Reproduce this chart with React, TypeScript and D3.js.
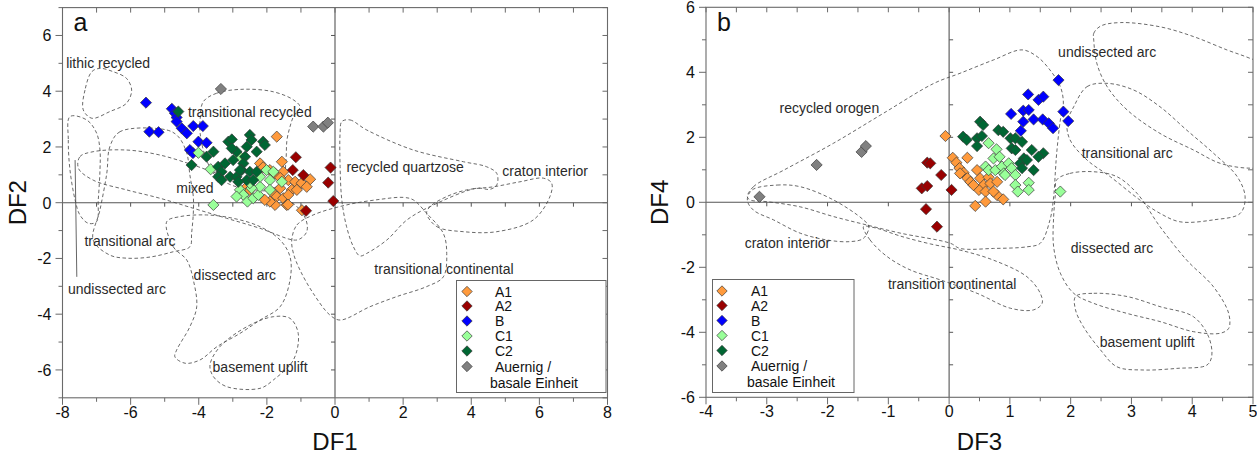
import React from 'react';
import * as d3 from 'd3';

type Pt = [number, number];

// ---------- series meta ----------
const seriesNames = ['A1', 'A2', 'B', 'C1', 'C2', 'Auernig'];
const seriesColors = ['#FF9A3C', '#990000', '#0000FF', '#99FF99', '#006633', '#808080'];
const legendLines: string[][] = [['A1'], ['A2'], ['B'], ['C1'], ['C2'], ['Auernig /', 'basale Einheit']];

// ---------- panel a : DF1 / DF2 ----------
const aA1: Pt[] = [[-1.71,2.37],[-1.56,1.47],[-2.20,1.41],[-2.11,1.27],[-1.91,1.17],[-1.76,1.05],[-1.52,1.11],[-1.37,0.81],[-1.17,0.75],[-0.98,0.70],[-0.73,0.84],[-0.83,0.57],[-1.27,0.46],[-1.61,0.52],[-1.81,0.34],[-1.71,0.22],[-1.52,0.16],[-1.37,0.28],[-1.76,-0.08],[-1.42,-0.08],[-1.91,0.04],[-2.06,0.10],[-2.59,0.57],[-2.50,0.46],[-1.12,0.46],[-1.61,0.89],[-0.97,-0.27],[-1.38,-0.07]];
const aA2: Pt[] = [[-1.15,1.63],[-1.24,1.17],[-0.93,0.99],[-0.85,-0.29],[-0.13,1.26],[-0.20,0.72],[-0.05,0.06]];
const aB: Pt[] = [[-5.55,3.59],[-5.45,2.55],[-5.18,2.53],[-4.79,3.37],[-4.70,3.21],[-4.65,3.06],[-4.65,2.91],[-4.50,2.67],[-4.35,2.49],[-4.16,2.75],[-3.88,2.75],[-4.01,2.19],[-3.77,2.15],[-4.26,1.89],[-4.17,1.78]];
const aC1: Pt[] = [[-4.01,1.79],[-3.65,1.20],[-3.57,-0.08],[-2.79,0.46],[-2.69,0.28],[-2.57,0.04],[-2.40,0.16],[-2.25,0.28],[-2.20,0.57],[-2.01,1.17],[-1.81,1.11],[-1.91,0.81],[-1.56,0.75],[-1.91,0.46],[-2.45,0.52],[-2.50,0.70],[-2.20,0.93],[-2.89,0.22],[-2.79,1.65]];
const aC2: Pt[] = [[-4.60,3.27],[-4.21,1.35],[-3.77,1.65],[-3.57,1.83],[-3.43,1.29],[-3.33,1.11],[-3.43,0.93],[-3.33,0.81],[-3.08,0.93],[-3.13,2.19],[-3.03,2.27],[-2.50,2.43],[-2.45,2.25],[-2.89,1.83],[-2.59,2.01],[-2.64,1.65],[-2.69,1.41],[-2.74,1.17],[-2.50,1.11],[-2.30,1.11],[-2.11,2.19],[-2.06,2.07],[-2.30,1.83],[-2.99,1.53],[-3.23,1.41],[-2.89,0.93],[-2.59,0.81],[-2.40,0.81],[-2.84,0.75],[-3.03,1.95],[-2.79,1.17]];
const aGray: Pt[] = [[-3.35,4.08],[-0.64,2.73],[-0.34,2.73],[-0.21,2.87]];

const aFieldLithicRecycled: Pt[] = [[-7.14,4.70],[-7.34,4.04],[-7.39,3.33],[-7.14,3.03],[-6.61,3.27],[-6.12,3.57],[-5.97,4.04],[-6.12,4.46],[-6.51,4.70],[-6.90,4.82]];
const aFieldUndissectedArc: Pt[] = [[-7.78,3.09],[-7.83,2.25],[-7.78,1.17],[-7.63,0.10],[-7.49,-0.44],[-7.24,-0.74],[-7.00,-0.68],[-6.95,0.10],[-6.90,1.17],[-6.90,1.89],[-7.00,2.50],[-7.29,2.97]];
const aFieldTransitionalArc: Pt[] = [[-4.94,2.61],[-6.31,2.55],[-6.61,2.01],[-6.70,1.05],[-6.90,-0.26],[-7.10,-1.34],[-6.61,-1.88],[-6.12,-1.99],[-5.43,-1.95],[-4.75,-1.76],[-4.26,-1.58],[-4.21,-1.10],[-4.16,-0.38],[-4.16,0.22],[-4.26,0.99],[-4.35,1.77],[-4.60,2.37]];
const aFieldMixed: Pt[] = [[-7.53,1.23],[-7.49,1.65],[-7.10,1.83],[-6.12,1.89],[-5.14,1.71],[-4.16,1.35],[-3.58,1.10],[-2.79,0.78],[-1.91,0.38],[-1.17,-0.08],[-0.85,-0.62],[-0.83,-1.04],[-1.03,-1.30],[-1.22,-1.34],[-2.20,-0.92],[-3.18,-0.56],[-4.16,-0.20],[-5.14,0.16],[-6.12,0.46],[-7.10,0.81]];
const aFieldTransitionalRecycled: Pt[] = [[-3.87,3.62],[-3.47,3.93],[-2.69,4.07],[-1.81,3.98],[-1.22,3.69],[-1.03,3.44],[-1.22,3.09],[-1.32,2.73],[-1.41,2.25],[-1.44,1.53],[-1.53,0.81],[-1.91,0.46],[-2.79,0.53],[-3.52,0.99],[-3.82,1.71],[-3.96,2.50],[-3.96,2.97]];
const aFieldRecycledQuartzose: Pt[] = [[0.20,2.91],[0.44,2.97],[0.93,2.61],[2.30,1.89],[3.77,1.47],[4.45,1.29],[4.75,1.05],[4.75,0.64],[4.55,0.48],[4.16,0.52],[2.79,-0.14],[2.11,-0.62],[1.52,-1.34],[0.93,-1.82],[0.73,-1.91],[0.54,-1.58],[0.34,-0.86],[0.20,0.10],[0.15,1.29],[0.15,2.50]];
const aFieldCratonInterior: Pt[] = [[2.69,-0.38],[2.99,-0.86],[3.77,-1.04],[4.75,-1.04],[5.82,-0.62],[6.31,0.22],[6.36,0.70],[6.12,0.88],[5.43,0.75],[4.65,0.57],[3.87,0.46],[3.28,0.22],[2.79,-0.14]];
const aFieldTransitionalContinental: Pt[] = [[-1.27,-1.34],[-1.12,-0.80],[-0.64,-0.44],[0.34,-0.08],[1.32,0.12],[2.01,0.19],[2.30,0.10],[2.69,-0.38],[3.18,-1.10],[3.28,-1.82],[3.18,-2.66],[2.69,-3.01],[1.81,-3.37],[1.03,-3.73],[0.15,-4.21],[-0.15,-4.03],[-0.64,-3.25],[-1.03,-2.41],[-1.22,-1.82]];
const aFieldDissectedArc: Pt[] = [[-4.94,-0.68],[-4.75,-1.58],[-4.35,-2.06],[-4.16,-2.77],[-4.06,-3.73],[-4.26,-4.45],[-4.65,-5.29],[-4.70,-5.53],[-4.40,-5.76],[-3.96,-5.64],[-3.47,-5.17],[-2.79,-4.69],[-2.20,-4.21],[-1.61,-3.73],[-1.32,-2.77],[-1.32,-1.94],[-1.61,-1.34],[-2.20,-0.86],[-2.99,-0.56],[-3.77,-0.44],[-4.55,-0.50]];
const aFieldBasementUplift: Pt[] = [[-3.67,-5.82],[-3.57,-6.24],[-3.18,-6.60],[-2.20,-6.66],[-1.81,-6.36],[-1.22,-5.64],[-1.08,-4.69],[-1.32,-4.15],[-1.81,-4.09],[-2.59,-4.45],[-3.38,-5.17]];
const aLeader: Pt[] = [[-7.63,1.53],[-7.58,-2.66]];

const aLabelTexts = ['lithic recycled','transitional recycled','mixed','recycled quartzose','craton interior','transitional arc','dissected arc','undissected arc','transitional continental','basement uplift'];
const aLabelPos: Pt[] = [[-6.66,5.01],[-2.50,3.25],[-4.11,0.53],[2.06,1.28],[6.17,1.14],[-6.02,-1.37],[-2.94,-2.59],[-6.40,-3.10],[3.20,-2.38],[-2.20,-5.89]];

// ---------- panel b : DF3 / DF4 ----------
const bA1: Pt[] = [[-0.06,2.04],[0.06,1.37],[0.12,1.22],[0.30,1.37],[0.17,1.05],[0.24,0.91],[0.18,0.89],[0.30,0.74],[0.35,0.63],[0.46,0.99],[0.51,0.74],[0.65,0.77],[0.57,0.53],[0.68,0.58],[0.79,0.63],[0.49,0.38],[0.60,0.33],[0.79,0.22],[0.89,0.09],[0.60,0.02],[0.43,-0.11],[0.73,0.33],[0.40,0.53]];
const bA2: Pt[] = [[-0.36,1.22],[-0.31,1.20],[-0.13,0.84],[-0.45,0.43],[-0.36,0.50],[0.04,0.38],[-0.38,-0.21],[-0.20,-0.75]];
const bB: Pt[] = [[1.80,3.76],[1.30,3.32],[1.47,3.15],[1.55,3.25],[1.02,2.72],[1.22,2.82],[1.31,2.84],[1.39,2.55],[1.54,2.55],[1.64,2.43],[1.71,2.28],[1.22,2.48],[1.18,2.20],[1.88,2.79],[1.96,2.50]];
const bC1: Pt[] = [[0.65,1.82],[0.78,1.63],[0.73,1.35],[0.60,1.10],[0.65,0.99],[0.76,0.99],[0.87,1.10],[0.90,0.89],[0.98,1.20],[1.03,1.05],[0.92,0.84],[1.09,0.84],[1.09,0.53],[1.13,0.33],[1.31,0.60],[1.31,0.38],[1.83,0.33],[0.83,1.40]];
const bC2: Pt[] = [[0.51,2.48],[0.56,2.38],[0.23,2.02],[0.29,1.92],[0.46,1.97],[0.54,2.04],[0.46,1.73],[0.81,2.22],[0.89,2.17],[1.01,1.97],[1.09,1.97],[1.20,1.86],[1.03,1.66],[1.09,1.61],[1.36,1.61],[1.55,1.51],[1.47,1.40],[1.23,1.35],[1.17,1.20],[1.39,0.99],[1.20,1.05],[1.28,1.30]];
const bGray: Pt[] = [[-3.12,0.17],[-2.18,1.15],[-1.44,1.55],[-1.37,1.73]];

const bFieldRecycledOrogen: Pt[] = [[-3.32,0.17],[-3.22,0.48],[-2.72,0.99],[-1.90,1.82],[-1.08,2.74],[-0.25,3.66],[0.18,3.97],[0.73,4.38],[1.20,4.69],[1.45,4.48],[1.66,4.07],[1.83,3.56],[1.88,3.05],[1.83,2.53],[1.77,1.51],[1.75,0.99],[1.72,0.17],[1.66,-0.54],[1.50,-1.26],[1.28,-1.37],[0.73,-1.42],[0.18,-1.42],[0.02,-1.26],[-0.80,-0.95],[-1.35,-0.70],[-1.90,-0.44],[-2.45,-0.14],[-3.00,0.02],[-3.27,0.07]];
const bFieldCratonInterior: Pt[] = [[-3.24,0.38],[-2.83,0.53],[-2.45,0.48],[-1.90,0.07],[-1.41,-0.54],[-1.32,-0.75],[-1.41,-1.11],[-1.63,-1.21],[-2.01,-1.16],[-2.45,-0.95],[-2.89,-0.54],[-3.22,-0.24],[-3.32,0.07]];
const bFieldTransitionContinental: Pt[] = [[-1.41,-0.75],[-1.30,-1.16],[-1.02,-1.67],[-0.64,-2.08],[-0.14,-2.39],[0.46,-2.80],[1.01,-3.26],[1.39,-3.31],[1.53,-3.11],[1.50,-2.80],[1.28,-2.29],[0.73,-1.78],[0.18,-1.47],[-0.31,-1.28],[-0.80,-1.04],[-1.21,-0.79]];
const bFieldUndissectedArc: Pt[] = [[2.38,4.99],[2.38,5.20],[2.49,5.42],[2.82,5.53],[3.47,5.40],[4.02,5.10],[4.57,4.69],[4.95,4.43],[5.37,4.07],[5.37,1.15],[4.95,1.05],[4.46,1.20],[4.02,1.61],[3.47,2.12],[2.93,2.84],[2.60,3.56],[2.43,4.28]];
const bFieldTransitionalArc: Pt[] = [[2.05,2.94],[2.27,3.56],[2.60,3.66],[3.03,3.46],[3.47,2.94],[3.91,2.22],[4.35,1.51],[4.74,0.79],[4.87,0.17],[4.79,-0.34],[4.35,-0.54],[3.80,-0.60],[3.47,-0.34],[3.14,0.07],[2.65,0.79],[2.27,1.30],[1.99,1.92],[1.94,2.43]];
const bFieldDissectedArc: Pt[] = [[1.77,0.69],[1.99,0.89],[2.38,0.94],[2.76,0.79],[3.09,0.28],[3.47,-0.75],[3.91,-1.78],[4.35,-2.60],[4.60,-3.42],[4.60,-3.88],[4.46,-4.03],[4.02,-3.98],[3.47,-3.67],[2.93,-3.42],[2.38,-3.11],[2.05,-2.80],[1.83,-2.18],[1.72,-1.37],[1.72,-0.44],[1.75,0.28]];
const bFieldBasementUplift: Pt[] = [[2.08,-2.90],[2.38,-2.80],[2.93,-2.90],[3.47,-3.21],[4.02,-3.52],[4.27,-4.14],[4.32,-4.75],[4.24,-5.01],[3.75,-5.11],[3.20,-5.16],[2.76,-5.06],[2.49,-4.54],[2.21,-3.83],[2.08,-3.31]];

const bLabelTexts = ['undissected arc','recycled orogen','transitional arc','craton interior','dissected arc','transition continental','basement uplift'];
const bLabelPos: Pt[] = [[2.60,4.63],[-1.97,2.90],[2.93,1.52],[-2.66,-1.25],[2.68,-1.41],[0.05,-2.51],[3.26,-4.29]];

// ---------- axes ----------
const aXMajor = d3.range(-8, 8.01, 2);
const aXMinor = d3.range(-8, 8.01, 1);
const aYMajor = d3.range(-6, 6.01, 2);
const aYMinor = d3.range(-7, 7.01, 1);
const bXMajor = d3.range(-4, 5.01, 1);
const bXMinor = d3.range(-4, 5.01, 0.5);
const bYMajor = d3.range(-6, 6.01, 2);
const bYMinor = d3.range(-6, 6.01, 1);

interface PanelProps {
  id: string;
  letter: string;
  box: { l: number; r: number; t: number; b: number };
  xDomain: [number, number];
  yDomain: [number, number];
  xMajor: number[]; xMinor: number[]; yMajor: number[]; yMinor: number[];
  zeroXTicks: number[]; zeroYTicks: number[]; zeroYSide: number;
  xTitle: string; yTitle: string; yTitleX: number;
  fields: Pt[][]; leaders: Pt[][];
  labelTexts: string[]; labelPos: Pt[];
  series: Pt[][];
  legend: { x: number; y: number; w: number; h: number; mx: number; tx: number; tx2: number; rows: number[] };
}

const FONT = 'Liberation Sans, Arial, sans-serif';

function Diamond({ x, y, color, r = 5.6 }: { x: number; y: number; color: string; r?: number }) {
  return (
    <path
      d={`M${x},${y - r}L${x + r},${y}L${x},${y + r}L${x - r},${y}Z`}
      fill={color}
      stroke="#3a3a3a"
      strokeWidth={0.7}
    />
  );
}

function Panel(p: PanelProps) {
  const { box } = p;
  const xs = d3.scaleLinear().domain(p.xDomain).range([box.l, box.r]);
  const ys = d3.scaleLinear().domain(p.yDomain).range([box.b, box.t]);
  const closed = d3.line<Pt>().x(d => xs(d[0])).y(d => ys(d[1])).curve(d3.curveCatmullRomClosed.alpha(0.5));
  const open = d3.line<Pt>().x(d => xs(d[0])).y(d => ys(d[1]));
  const x0 = xs(0), y0 = ys(0);
  const axisColor = '#6a6a6a';
  const order = [0, 1, 2, 3, 4, 5];
  return (
    <g>
      <defs>
        <clipPath id={`clip-${p.id}`}>
          <rect x={box.l} y={box.t} width={box.r - box.l} height={box.b - box.t} />
        </clipPath>
      </defs>
      {/* zero lines */}
      <line x1={box.l} x2={box.r} y1={y0} y2={y0} stroke="#555" strokeWidth={1.1} />
      <line x1={x0} x2={x0} y1={box.t} y2={box.b} stroke="#555" strokeWidth={1.1} />
      {p.zeroXTicks.map(v => (
        <line key={'zx' + v} x1={xs(v)} x2={xs(v)} y1={y0} y2={y0 + 4} stroke="#555" strokeWidth={1} />
      ))}
      {p.zeroYTicks.map(v => (
        <line key={'zy' + v} x1={x0} x2={x0 + 4 * p.zeroYSide} y1={ys(v)} y2={ys(v)} stroke="#555" strokeWidth={1} />
      ))}
      {/* fields */}
      <g clipPath={`url(#clip-${p.id})`}>
        {p.fields.map((f, i) => (
          <path key={'f' + i} d={closed(f) || ''} fill="none" stroke="#444" strokeWidth={0.8} strokeDasharray="3.5,2.5" />
        ))}
        {p.leaders.map((f, i) => (
          <path key={'l' + i} d={open(f) || ''} fill="none" stroke="#555" strokeWidth={0.9} />
        ))}
      </g>
      {/* field labels */}
      {p.labelTexts.map((t, i) => (
        <text key={'t' + i} x={xs(p.labelPos[i][0])} y={ys(p.labelPos[i][1]) + 5} textAnchor="middle" fontSize={14} fontFamily={FONT} fill="#2a2a2a">
          {t}
        </text>
      ))}
      {/* points */}
      {order.map(si => (
        <g key={'s' + si}>
          {p.series[si].map((d, j) => (
            <Diamond key={j} x={xs(d[0])} y={ys(d[1])} color={seriesColors[si]} />
          ))}
        </g>
      ))}
      {/* frame */}
      <rect x={box.l} y={box.t} width={box.r - box.l} height={box.b - box.t} fill="none" stroke={axisColor} strokeWidth={1.1} />
      {/* bottom ticks */}
      {p.xMinor.map(v => (
        <line key={'bx' + v} x1={xs(v)} x2={xs(v)} y1={box.b} y2={box.b + (p.xMajor.includes(v) ? 7 : 4)} stroke={axisColor} />
      ))}
      {p.xMinor.map(v => (
        <line key={'tx' + v} x1={xs(v)} x2={xs(v)} y1={box.t} y2={box.t + 5} stroke={axisColor} />
      ))}
      {p.xMajor.map(v => (
        <text key={'xl' + v} x={xs(v)} y={box.b + 20} textAnchor="middle" fontSize={16} fontFamily={FONT} fill="#111">
          {String(v)}
        </text>
      ))}
      {/* left ticks */}
      {p.yMinor.map(v => (
        <line key={'ly' + v} x1={box.l} x2={box.l - (p.yMajor.includes(v) ? 7 : 4)} y1={ys(v)} y2={ys(v)} stroke={axisColor} />
      ))}
      {p.yMinor.map(v => (
        <line key={'ry' + v} x1={box.r} x2={box.r - 5} y1={ys(v)} y2={ys(v)} stroke={axisColor} />
      ))}
      {p.yMajor.map(v => (
        <text key={'yl' + v} x={box.l - 11} y={ys(v) + 6} textAnchor="end" fontSize={16} fontFamily={FONT} fill="#111">
          {String(v)}
        </text>
      ))}
      {/* titles */}
      <text x={(box.l + box.r) / 2} y={450} textAnchor="middle" fontSize={24} fontFamily={FONT} fill="#111">
        {p.xTitle}
      </text>
      <text transform={`translate(${p.yTitleX},${(box.t + box.b) / 2}) rotate(-90)`} textAnchor="middle" fontSize={24} fontFamily={FONT} fill="#111">
        {p.yTitle}
      </text>
      <text x={box.l + 11} y={31} fontSize={25} fontFamily={FONT} fill="#111">
        {p.letter}
      </text>
      {/* legend */}
      <g>
        <rect x={p.legend.x} y={p.legend.y} width={p.legend.w} height={p.legend.h} fill="#fff" stroke="#666" strokeWidth={1} />
        {legendLines.map((lines, i) => (
          <g key={'lg' + i}>
            <Diamond x={p.legend.mx} y={p.legend.rows[i]} color={seriesColors[i]} r={5.2} />
            {lines.map((t, k) => (
              <text key={k} x={k === 0 ? p.legend.tx : p.legend.tx2} y={p.legend.rows[i] + 5 + k * 16} fontSize={14} fontFamily={FONT} fill="#111">
                {t}
              </text>
            ))}
          </g>
        ))}
      </g>
    </g>
  );
}

export default function App() {
  const legendRows = [291.5, 306, 321, 336, 351, 366.5];
  return (
    <svg width={1257} height={459} style={{ position: 'absolute', left: 0, top: 0, background: '#fff' }}>
      <rect x={0} y={0} width={1257} height={459} fill="#fff" />
      <Panel
        id="a"
        letter="a"
        box={{ l: 62.5, r: 607.5, t: 7.6, b: 397.8 }}
        xDomain={[-8, 8]}
        yDomain={[-7, 7]}
        xMajor={aXMajor} xMinor={aXMinor} yMajor={aYMajor} yMinor={aYMinor}
        zeroXTicks={d3.range(-7, 7.01, 1).filter(v => v !== 0)}
        zeroYTicks={d3.range(-6, 6.01, 1).filter(v => v !== 0)}
        zeroYSide={-1}
        xTitle="DF1" yTitle="DF2" yTitleX={26}
        fields={[aFieldLithicRecycled, aFieldUndissectedArc, aFieldTransitionalArc, aFieldMixed, aFieldTransitionalRecycled, aFieldRecycledQuartzose, aFieldCratonInterior, aFieldTransitionalContinental, aFieldDissectedArc, aFieldBasementUplift]}
        leaders={[aLeader]}
        labelTexts={aLabelTexts} labelPos={aLabelPos}
        series={[aA1, aA2, aB, aC1, aC2, aGray]}
        legend={{ x: 456.5, y: 280.5, w: 149.5, h: 112, mx: 467, tx: 495, tx2: 490, rows: legendRows }}
      />
      <Panel
        id="b"
        letter="b"
        box={{ l: 706, r: 1253, t: 7.3, b: 397.3 }}
        xDomain={[-4, 5]}
        yDomain={[-6, 6]}
        xMajor={bXMajor} xMinor={bXMinor} yMajor={bYMajor} yMinor={bYMinor}
        zeroXTicks={d3.range(-3, 4.01, 1).filter(v => v !== 0)}
        zeroYTicks={d3.range(-5, 5.01, 1).filter(v => v !== 0)}
        zeroYSide={1}
        xTitle="DF3" yTitle="DF4" yTitleX={668}
        fields={[bFieldRecycledOrogen, bFieldCratonInterior, bFieldTransitionContinental, bFieldUndissectedArc, bFieldTransitionalArc, bFieldDissectedArc, bFieldBasementUplift]}
        leaders={[]}
        labelTexts={bLabelTexts} labelPos={bLabelPos}
        series={[bA1, bA2, bB, bC1, bC2, bGray]}
        legend={{ x: 712.5, y: 279.5, w: 141.5, h: 113, mx: 722, tx: 751, tx2: 747, rows: legendRows.map(r => r - 0.5) }}
      />
    </svg>
  );
}
